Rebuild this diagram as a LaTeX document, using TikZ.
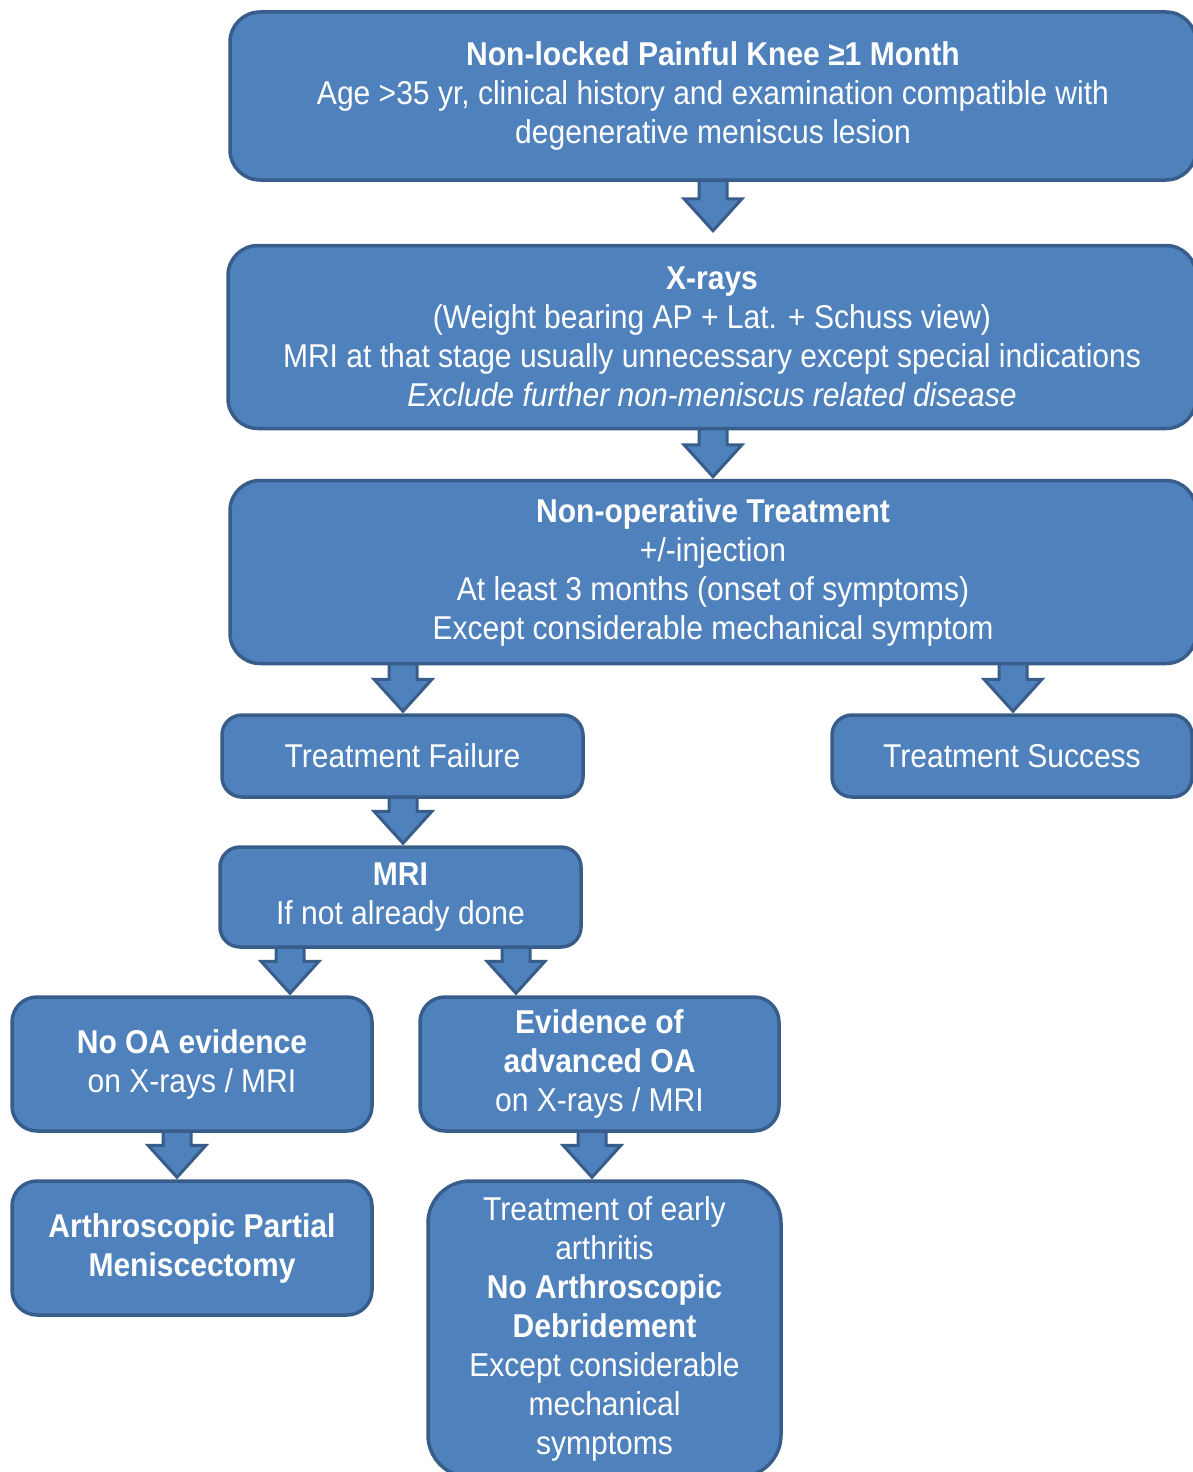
\documentclass[tikz,border=0pt]{standalone}
\usepackage{fontspec}
\setmainfont[FakeStretch=0.91]{Liberation Sans}
\usetikzlibrary{calc,backgrounds}
\definecolor{boxblue}{HTML}{4F81BD}
\definecolor{boxline}{HTML}{385D8A}
% fat block arrow: [gap]{x}{from}{to}
\newcommand{\blockarrow}[4][2]{%
\path (#2,0) coordinate (ax);
\coordinate (atop) at (#3.south -| ax);
\coordinate (abot) at ($(#4.north -| ax)+(0,#1)$);
\draw[arrow body] ($(atop)+(-14,2)$) -- ($(atop)+(14,2)$) -- ($(abot)+(14,32)$) -- ($(abot)+(29,32)$)
  -- (abot) -- ($(abot)+(-29,32)$) -- ($(abot)+(-14,32)$) -- cycle;
}
\begin{document}
\begin{tikzpicture}[x=1pt,y=1pt,
  box node/.style={rectangle,rounded corners=#1,draw=boxline,fill=boxblue,line width=3.5pt,
    text=white,align=center,inner sep=0pt,font=\fontsize{33}{39}\selectfont},
  box node/.default=20pt,
  arrow body/.style={draw=boxline,fill=boxblue,line width=3pt,line join=miter}]
\useasboundingbox (0,0) rectangle (1192,-1472);
\begin{scope}
\node[box node=30pt,minimum width=966,minimum height=168] (knee) at (713,-96)
  {\textbf{Non-locked Painful Knee ≥1 Month}\\Age >35 yr, clinical history and examination compatible with\\degenerative meniscus lesion};
\node[box node=30pt,minimum width=968,minimum height=183] (xray) at (712,-337)
  {\textbf{X-rays}\\(Weight bearing AP + Lat. + Schuss view)\\MRI at that stage usually unnecessary except special indications\\\textit{Exclude further non-meniscus related disease}};
\node[box node=30pt,minimum width=966,minimum height=183] (nonop) at (713,-572)
  {\textbf{Non-operative Treatment}\\+/-injection\\At least 3 months (onset of symptoms)\\Except considerable mechanical symptom};
\node[box node,minimum width=361,minimum height=82] (fail) at (402.5,-756) {Treatment Failure};
\node[box node,minimum width=360,minimum height=82] (success) at (1012,-756) {Treatment Success};
\node[box node,minimum width=361,minimum height=100] (mri) at (400.5,-897) {\textbf{MRI}\\If not already done};
\node[box node=25pt,minimum width=360,minimum height=134] (nooa) at (192,-1064) {\textbf{No OA evidence}\\on X-rays / MRI};
\node[box node=25pt,minimum width=359,minimum height=134] (advoa) at (599.5,-1064) {\textbf{Evidence of}\\\textbf{advanced OA}\\on X-rays / MRI};
\node[box node=25pt,minimum width=360,minimum height=134] (apm) at (192,-1248) {\textbf{Arthroscopic Partial}\\\textbf{Meniscectomy}};
\node[box node=42pt,minimum width=353,minimum height=296] (early) at (604.5,-1329)
  {Treatment of early\\arthritis\\\textbf{No Arthroscopic}\\\textbf{Debridement}\\Except considerable\\mechanical\\symptoms};
\end{scope}
\begin{scope}[on background layer]
\blockarrow[13]{713}{knee}{xray}
\blockarrow{713}{xray}{nonop}
\blockarrow{403}{nonop}{fail}
\blockarrow{1013}{nonop}{success}
\blockarrow{403}{fail}{mri}
\blockarrow{290}{mri}{nooa}
\blockarrow{516}{mri}{advoa}
\blockarrow{177}{nooa}{apm}
\blockarrow{592}{advoa}{early}
\end{scope}
\end{tikzpicture}
\end{document}
